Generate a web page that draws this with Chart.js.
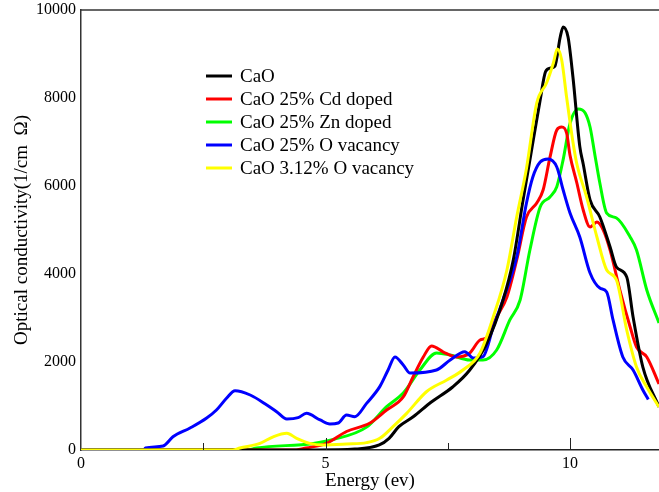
<!DOCTYPE html>
<html>
<head>
<meta charset="utf-8">
<script src="https://cdn.jsdelivr.net/npm/chart.js@4.4.0/dist/chart.umd.min.js"></script>
<style>
  body { margin: 0; background: #fff; }
  canvas { display: block; }
</style>
</head>
<body>
<canvas id="chart" width="659" height="492"></canvas>
<script>
// values (energy in eV, conductivity in 1/(cm Ohm))
const caoE = [0, 4.8, 5.6, 6.1, 6.3, 6.5, 6.8, 7.15, 7.6, 7.95, 8.3, 8.63, 8.84, 9.04, 9.18, 9.39, 9.5, 9.6, 9.69, 9.8, 9.86, 9.96, 10.06, 10.2, 10.27, 10.41, 10.61, 10.82, 10.95, 11.16, 11.29, 11.49, 11.82];
const caoV = [0, 0, 20, 114, 265, 530, 760, 1080, 1432, 1818, 2432, 3409, 4318, 5682, 6590, 7955, 8600, 8680, 8720, 9386, 9614, 9386, 8477, 6900, 6500, 5682, 5295, 4614, 4159, 3932, 3023, 1886, 980];

const cdE = [0, 4.4, 4.6, 5.02, 5.43, 5.91, 6.25, 6.59, 6.79, 7.0, 7.17, 7.41, 7.68, 7.95, 8.16, 8.29, 8.5, 8.71, 8.91, 9.11, 9.32, 9.45, 9.59, 9.73, 9.83, 9.93, 10.0, 10.14, 10.27, 10.41, 10.55, 10.68, 10.82, 11.02, 11.23, 11.36, 11.57, 11.82];
const cdV = [0, 0, 45, 150, 420, 614, 909, 1205, 1660, 2114, 2364, 2227, 2114, 2205, 2500, 2545, 3023, 3477, 4318, 5295, 5614, 5909, 6650, 7273, 7341, 7205, 6700, 6068, 5455, 5068, 5182, 5000, 4545, 3636, 2795, 2341, 2114, 1500];

const znE = [0, 3.4, 3.59, 4.75, 5.16, 5.84, 6.25, 6.59, 6.93, 7.27, 7.55, 7.95, 8.22, 8.5, 8.77, 8.98, 9.18, 9.39, 9.59, 9.73, 9.86, 10.0, 10.17, 10.31, 10.41, 10.51, 10.61, 10.75, 10.95, 11.23, 11.36, 11.57, 11.82];
const znV = [0, 0, 45, 150, 240, 520, 985, 1295, 1818, 2205, 2159, 2045, 2045, 2273, 2955, 3409, 4545, 5523, 5750, 5985, 6600, 7420, 7750, 7660, 7341, 6700, 6068, 5386, 5273, 4841, 4545, 3636, 2886];

const vac25E = [0, 1.28, 1.32, 1.68, 1.88, 2.23, 2.57, 2.77, 2.98, 3.15, 3.46, 3.8, 4.0, 4.21, 4.44, 4.61, 4.89, 5.09, 5.26, 5.43, 5.6, 5.84, 6.11, 6.28, 6.42, 6.59, 6.73, 7.27, 7.55, 7.85, 8.02, 8.22, 8.43, 8.63, 8.91, 9.11, 9.24, 9.39, 9.55, 9.73, 9.86, 10.0, 10.2, 10.41, 10.61, 10.75, 10.88, 11.08, 11.29, 11.49, 11.6];
const vac25V = [0, 0, 45, 91, 300, 500, 727, 909, 1182, 1348, 1250, 1023, 871, 705, 735, 833, 682, 591, 614, 795, 758, 1060, 1440, 1818, 2114, 1932, 1750, 1818, 2045, 2235, 2091, 2121, 2795, 3409, 4386, 5614, 6205, 6545, 6614, 6432, 5909, 5386, 4841, 4023, 3682, 3591, 2955, 2114, 1818, 1364, 1150];

const vac3E = [0, 3.1, 3.25, 3.66, 3.93, 4.21, 4.41, 4.68, 4.95, 5.43, 5.84, 6.11, 6.38, 6.66, 7.07, 7.48, 7.81, 8.16, 8.43, 8.71, 8.91, 9.11, 9.32, 9.52, 9.66, 9.74, 9.83, 9.93, 10.06, 10.14, 10.34, 10.55, 10.75, 10.95, 11.16, 11.36, 11.57, 11.82];
const vac3V = [0, 0, 45, 150, 300, 380, 265, 150, 114, 136, 167, 265, 530, 833, 1330, 1591, 1818, 2205, 3023, 4091, 5295, 6400, 7886, 8341, 8795, 9114, 8864, 8023, 7000, 6500, 5750, 4841, 4091, 3864, 2727, 1886, 1432, 977];

const seriesNames = ['CaO', 'CaO 25% Cd doped', 'CaO 25% Zn doped', 'CaO 25% O vacancy', 'CaO 3.12% O vacancy'];
const seriesColors = ['#000000', '#ff0000', '#00ff00', '#0000ff', '#ffff00'];
const drawOrder = [2, 4, 5, 3, 1]; // yellow ends up on top

const xLabelTicks = [0, 5, 10];
const xMajorTicks = [5, 10];
const xMinorTicks = [2.5, 7.5];

const serif = 'Liberation Serif, Times New Roman, serif';

const toPoints = (es, vs) => es.map((e, i) => ({ x: e, y: vs[i] }));
const allSeries = [
    toPoints(caoE, caoV),
    toPoints(cdE, cdV),
    toPoints(znE, znV),
    toPoints(vac25E, vac25V),
    toPoints(vac3E, vac3V)
];

// inward tick marks on the energy axis + top frame line
const framePlugin = {
    id: 'frame',
    afterDraw(chart) {
        const { ctx, chartArea } = chart;
        const x = chart.scales.x;
        ctx.save();
        ctx.strokeStyle = '#333';
        ctx.lineWidth = 1.5;
        ctx.beginPath();
        ctx.moveTo(chartArea.left, chartArea.top);
        ctx.lineTo(chartArea.right, chartArea.top);
        ctx.stroke();
        ctx.lineWidth = 1;
        ctx.strokeStyle = '#222';
        const tick = (v, len) => {
            const px = Math.round(x.getPixelForValue(v)) + 0.5;
            ctx.beginPath();
            ctx.moveTo(px, chartArea.bottom);
            ctx.lineTo(px, chartArea.bottom - len);
            ctx.stroke();
        };
        xMajorTicks.forEach(v => tick(v, 12));
        xMinorTicks.forEach(v => tick(v, 7));
        ctx.restore();
    }
};

// legend drawn inside the plot, like the original
const legendPlugin = {
    id: 'insideLegend',
    afterDraw(chart) {
        const ctx = chart.ctx;
        ctx.save();
        ctx.font = '19px ' + serif;
        ctx.textBaseline = 'middle';
        ctx.fillStyle = '#000';
        seriesNames.forEach((name, i) => {
            const y = 76 + i * 23;
            ctx.strokeStyle = seriesColors[i];
            ctx.lineWidth = 3;
            ctx.beginPath();
            ctx.moveTo(206, y);
            ctx.lineTo(232, y);
            ctx.stroke();
            ctx.fillText(name, 240, y + 1);
        });
        ctx.restore();
    }
};

new Chart(document.getElementById('chart'), {
    type: 'line',
    data: {
        datasets: allSeries.map((pts, i) => ({
            label: seriesNames[i],
            data: pts,
            borderColor: seriesColors[i],
            backgroundColor: seriesColors[i],
            borderWidth: 3,
            pointRadius: 0,
            fill: false,
            cubicInterpolationMode: 'monotone',
            order: drawOrder[i]
        }))
    },
    options: {
        responsive: false,
        animation: false,
        devicePixelRatio: 1,
        layout: { padding: { top: 10, right: 0, left: 0, bottom: 0 } },
        plugins: {
            legend: { display: false },
            tooltip: { enabled: false }
        },
        scales: {
            x: {
                type: 'linear',
                min: 0,
                max: 11.82,
                afterBuildTicks: (scale) => {
                    scale.ticks = xLabelTicks.map(v => ({ value: v }));
                },
                afterFit: (scale) => { scale.height = 42; },
                grid: { display: false, drawTicks: false },
                border: { color: '#222', width: 1.5 },
                ticks: {
                    color: '#000',
                    font: { family: serif, size: 16 },
                    padding: 4,
                    maxRotation: 0
                },
                title: {
                    display: true,
                    text: 'Energy (ev)',
                    color: '#000',
                    font: { family: serif, size: 19 },
                    padding: { top: 0, bottom: 0 }
                }
            },
            y: {
                min: 0,
                max: 10000,
                afterFit: (scale) => {
                    scale.width = 81;
                    scale.paddingTop = 0;
                    scale.paddingBottom = 0;
                },
                grid: { display: false, drawTicks: false },
                border: { color: '#333', width: 1.5 },
                ticks: {
                    stepSize: 2000,
                    color: '#000',
                    font: { family: serif, size: 16 },
                    padding: 5,
                    callback: (v) => String(v)
                },
                title: {
                    display: true,
                    text: 'Optical conductivity(1/cm  Ω)',
                    color: '#000',
                    font: { family: serif, size: 19 },
                    padding: { top: 11, bottom: 0 }
                }
            }
        }
    },
    plugins: [framePlugin, legendPlugin]
});
</script>
</body>
</html>
